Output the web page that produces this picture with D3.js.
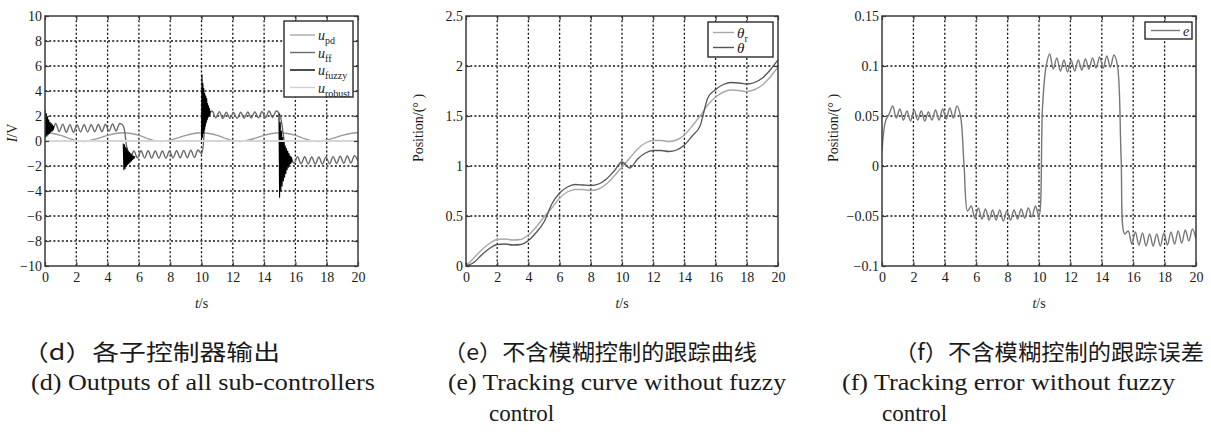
<!DOCTYPE html>
<html><head><meta charset="utf-8">
<script src="https://cdn.jsdelivr.net/npm/d3@7"></script>
<style>
html,body{margin:0;padding:0;background:#fff;}
svg{display:block;}
text{font-family:"Liberation Serif","Times New Roman",serif;fill:#1a1a1a;}
</style></head><body>
<svg id="chart" width="1211" height="441"></svg>
<script>
// ---------------- data ----------------
const timeTicks = [0,2,4,6,8,10,12,14,16,18,20];
const timeTickLabels = ["0","2","4","6","8","10","12","14","16","18","20"];

const uTicks = [-10,-8,-6,-4,-2,0,2,4,6,8,10];
const uTickLabels = ["\u221210","\u22128","\u22126","\u22124","\u22122","0","2","4","6","8","10"];
const posTicks = [0,0.5,1,1.5,2,2.5];
const posTickLabels = ["0","0.5","1","1.5","2","2.5"];
const errTicks = [-0.1,-0.05,0,0.05,0.1,0.15];
const errTickLabels = ["\u22120.1","\u22120.05","0","0.05","0.1","0.15"];

// sampling steps (s)
const oscStep = 5/22;     // error-type series
const smoothStep = 0.5;   // smooth series
const robustStep = 1;

// tracking error e (panel f)
const eVals = [
 0.015,0.045,0.052,0.060,0.048,0.057,0.046,0.055,0.045,0.056,0.046,0.055,0.045,0.054,0.046,0.056,0.046,0.057,0.047,0.058,0.048,0.060,0.050,
 0.000,-0.045,-0.040,-0.052,-0.042,-0.053,-0.043,-0.054,-0.044,-0.054,-0.044,-0.055,-0.045,-0.054,-0.044,-0.053,-0.043,-0.052,-0.042,-0.051,-0.040,-0.050,
 0.060,0.100,0.112,0.097,0.108,0.095,0.106,0.094,0.106,0.095,0.106,0.096,0.107,0.097,0.108,0.098,0.109,0.098,0.110,0.099,0.111,0.100,
 0.010,-0.068,-0.065,-0.078,-0.066,-0.079,-0.067,-0.080,-0.068,-0.080,-0.068,-0.080,-0.067,-0.079,-0.066,-0.078,-0.065,-0.077,-0.064,-0.075,-0.063,-0.073
];

// oscillating sub-controller output (panel d)
const uFFVals = [
 0.4,1.3,0.8,1.4,0.75,1.35,0.7,1.3,0.7,1.3,0.72,1.3,0.72,1.3,0.74,1.32,0.75,1.34,0.78,1.36,0.8,1.4,1.2,
 -0.5,-1.3,-0.8,-1.35,-0.78,-1.36,-0.78,-1.37,-0.8,-1.38,-0.8,-1.38,-0.8,-1.36,-0.78,-1.35,-0.76,-1.34,-0.74,-1.32,-0.72,-1.0,
 1.2,2.1,2.4,1.85,2.35,1.8,2.3,1.8,2.3,1.8,2.3,1.82,2.32,1.84,2.34,1.85,2.36,1.86,2.4,1.88,2.4,2.1,
 0.5,-1.4,-1.3,-1.8,-1.25,-1.82,-1.26,-1.84,-1.28,-1.85,-1.28,-1.85,-1.27,-1.83,-1.25,-1.8,-1.22,-1.78,-1.2,-1.76,-1.18,-1.6
];

// smooth sub-controller output (panel d)
const uPDVals = [
 0.65,0.60,0.45,0.22,0.03,-0.04,0.08,0.25,0.45,0.60,
 0.66,0.60,0.45,0.22,0.03,-0.04,0.08,0.25,0.45,0.60,
 0.66,0.60,0.45,0.22,0.03,-0.04,0.08,0.25,0.45,0.60,
 0.66,0.60,0.45,0.22,0.03,-0.04,0.08,0.25,0.45,0.60,
 0.66
];

const uRobustVals = [0,0,0,0,0,0,0,0,0,0,0,0,0,0,0,0,0,0,0,0,0];

// fuzzy bursts
const fuzzyStarts = [0, 5.0, 10.0, 14.95];
const fuzzySteps = [0.04, 0.04, 0.03, 0.04];
const fuzzyBurst0 = [2.5,0.3,2.2,0.4,1.9,0.5,1.7,0.6,1.5,0.7,1.4,0.8,1.3,0.9,1.2];
const fuzzyBurst5 = [-0.2,-2.3,-0.3,-2.2,-0.5,-2.0,-0.6,-1.9,-0.8,-1.8,-0.9,-1.7,-1.0,-1.6,-1.1,-1.5,-1.2,-1.4,-1.25,-1.3];
const fuzzyBurst10 = [0.0,5.3,0.3,4.6,0.6,4.2,0.9,3.8,1.2,3.6,1.5,3.4,1.7,3.0,1.9,2.8,2.0,2.6,2.1,2.4];
const fuzzyBurst15 = [2.2,-4.5,1.5,-4.0,0.8,-3.6,0.3,-3.2,-0.1,-2.9,-0.4,-2.6,-0.6,-2.3,-0.8,-2.1,-1.0,-1.9,-1.2,-1.8,-1.3,-1.7];

// tracking curves (panel e)
const thetaRVals = [
 0.0,0.08,0.16,0.225,0.265,0.27,0.26,0.265,0.31,0.39,
 0.49,0.58,0.68,0.74,0.765,0.765,0.755,0.77,0.82,0.90,
 0.99,1.08,1.17,1.23,1.255,1.255,1.245,1.26,1.31,1.40,
 1.50,1.61,1.69,1.74,1.76,1.755,1.745,1.765,1.81,1.89,
 1.99
];
const thetaVals = [
 0.0,0.035,0.11,0.175,0.215,0.22,0.21,0.215,0.255,0.335,
 0.44,0.62,0.73,0.79,0.815,0.81,0.805,0.82,0.87,0.95,
 1.04,0.98,1.07,1.13,1.155,1.155,1.145,1.16,1.21,1.30,
 1.40,1.68,1.765,1.815,1.835,1.83,1.82,1.835,1.88,1.96,
 2.06
];

const captionsCN = ["\uFF08d\uFF09各子控制器输出","\uFF08e\uFF09不含模糊控制的跟踪曲线","\uFF08f\uFF09不含模糊控制的跟踪误差"];
const captionsEN = ["(d) Outputs of all sub-controllers","(e) Tracking curve without fuzzy","(f) Tracking error without fuzzy"];
const captionsEN2 = ["","control","control"];

// ---------------- drawing ----------------
const svg = d3.select("#chart");
const toPts = (vals, step, start=0) => vals.map((v,i)=>[start+i*step, v]);

function panel(o){
  const g = svg.append("g");
  const x = d3.scaleLinear().domain([0,20]).range([o.left,o.right]);
  const y = d3.scaleLinear().domain(o.yDomain).range([o.bottom,o.top]);
  const id = "clip"+o.name;
  svg.append("clipPath").attr("id",id).append("rect")
    .attr("x",o.left).attr("y",o.top).attr("width",o.right-o.left).attr("height",o.bottom-o.top);
  const grid = g.append("g").attr("stroke","#111").attr("stroke-width",1.3).attr("stroke-dasharray","2,2.2");
  grid.selectAll(".v").data(timeTicks.slice(1,-1)).join("line")
    .attr("x1",d=>x(d)).attr("x2",d=>x(d)).attr("y1",o.top).attr("y2",o.bottom);
  grid.selectAll(".h").data(o.yTicks.slice(1,-1)).join("line")
    .attr("y1",d=>y(d)).attr("y2",d=>y(d)).attr("x1",o.left).attr("x2",o.right);
  const plot = g.append("g").attr("clip-path",`url(#${id})`);
  const styleAxis = (sel)=>{sel.attr("font-family",null).attr("font-size",null).style("color","#3a3a3a");
    sel.select(".domain").remove(); sel.selectAll("line").attr("stroke-width",1.2);
    sel.selectAll("text").attr("font-size",14).style("fill","#1a1a1a")
      .style("font-family","'Liberation Serif','Times New Roman',serif");};
  g.append("g").attr("transform",`translate(0,${o.bottom})`)
    .call(d3.axisBottom(x).tickValues(timeTicks).tickFormat((d,i)=>timeTickLabels[i]).tickSizeInner(-4).tickSizeOuter(0).tickPadding(6)).call(styleAxis);
  g.append("g").attr("transform",`translate(0,${o.top})`)
    .call(d3.axisTop(x).tickValues(timeTicks).tickFormat("").tickSizeInner(-4).tickSizeOuter(0)).call(styleAxis);
  g.append("g").attr("transform",`translate(${o.left},0)`)
    .call(d3.axisLeft(y).tickValues(o.yTicks).tickFormat((d,i)=>o.yLabels[i]).tickSizeInner(-4).tickSizeOuter(0).tickPadding(3)).call(styleAxis);
  g.append("g").attr("transform",`translate(${o.right},0)`)
    .call(d3.axisRight(y).tickValues(o.yTicks).tickFormat("").tickSizeInner(-4).tickSizeOuter(0)).call(styleAxis);
  g.append("rect").attr("x",o.left).attr("y",o.top).attr("width",o.right-o.left).attr("height",o.bottom-o.top)
    .attr("fill","none").attr("stroke","#3a3a3a").attr("stroke-width",1.5);
  const xl = g.append("text").attr("x",(o.left+o.right)/2).attr("y",308).attr("text-anchor","middle").attr("font-size",14);
  xl.append("tspan").attr("font-style","italic").text("t");
  xl.append("tspan").text("/s");
  return {g,plot,x,y};
}

function addLine(p, pts, color, width, curve){
  p.plot.append("path").datum(pts)
    .attr("fill","none").attr("stroke",color).attr("stroke-width",width).attr("stroke-linejoin","round")
    .attr("d", d3.line().x(d=>p.x(d[0])).y(d=>p.y(d[1])).curve(curve||d3.curveLinear));
}

function legend(p, box, rows){
  const lg = p.g.append("g");
  lg.append("rect").attr("x",box[0]).attr("y",box[1]).attr("width",box[2]-box[0]).attr("height",box[3]-box[1])
    .attr("fill","#fff").attr("stroke","#2a2a2a").attr("stroke-width",1.4);
  rows.forEach(r=>{
    lg.append("line").attr("x1",r.x1).attr("x2",r.x2).attr("y1",r.y).attr("y2",r.y)
      .attr("stroke",r.color).attr("stroke-width",r.w||1.4);
    const t = lg.append("text").attr("x",r.tx).attr("y",r.y+5).attr("font-size",r.fs||14);
    t.append("tspan").attr("font-style","italic").text(r.main);
    if(r.sub) t.append("tspan").attr("font-size",10).attr("dy",4).text(r.sub);
  });
}

// ---- panel d ----
const p1 = panel({name:"d",left:45,right:358,top:16,bottom:266,yDomain:[-10,10],yTicks:uTicks,yLabels:uTickLabels});
addLine(p1, toPts(uPDVals,smoothStep), "#9a9a9a", 1.3, d3.curveMonotoneX);
addLine(p1, toPts(uFFVals,oscStep), "#6a6a6a", 1.4, d3.curveCatmullRom.alpha(0.5));
[fuzzyBurst0,fuzzyBurst5,fuzzyBurst10,fuzzyBurst15].forEach((b,i)=>
  addLine(p1, toPts(b,fuzzySteps[i],fuzzyStarts[i]), "#000", 1.1));
addLine(p1, toPts(uRobustVals,robustStep), "#d6d6d6", 2.2);
legend(p1,[284,21,353,97],[
  {x1:290,x2:315,y:35,tx:318,color:"#a8a8a8",main:"u",sub:"pd"},
  {x1:290,x2:315,y:52.5,tx:318,color:"#6a6a6a",main:"u",sub:"ff"},
  {x1:290,x2:315,y:70,tx:318,color:"#000",main:"u",sub:"fuzzy"},
  {x1:290,x2:315,y:87.5,tx:318,color:"#cfcfcf",main:"u",sub:"robust"}
]);
svg.append("text").attr("transform","translate(17,133) rotate(-90)").attr("text-anchor","middle").attr("font-size",14)
  .call(t=>{t.append("tspan").attr("font-style","italic").text("I");t.append("tspan").text("/V");});

// ---- panel e ----
const p2 = panel({name:"e",left:466,right:778,top:16,bottom:266,yDomain:[0,2.5],yTicks:posTicks,yLabels:posTickLabels});
addLine(p2, toPts(thetaRVals,smoothStep), "#a8a8a8", 1.4, d3.curveMonotoneX);
addLine(p2, toPts(thetaVals,smoothStep), "#555", 1.3, d3.curveMonotoneX);
legend(p2,[708,22,773,57],[
  {x1:713,x2:734,y:32.5,tx:737,color:"#a8a8a8",main:"\u03B8",sub:"r",fs:15},
  {x1:713,x2:734,y:47.5,tx:737,color:"#555",main:"\u03B8",fs:15}
]);
svg.append("text").attr("transform","translate(423,128) rotate(-90)").attr("text-anchor","middle").attr("font-size",14)
  .text("Position/(\u00B0 )");

// ---- panel f ----
const p3 = panel({name:"f",left:882,right:1196,top:16,bottom:266,yDomain:[-0.1,0.15],yTicks:errTicks,yLabels:errTickLabels});
addLine(p3, toPts(eVals,oscStep), "#777", 1.4, d3.curveCatmullRom.alpha(0.5));
legend(p3,[1145,22,1192,39],[
  {x1:1151,x2:1180,y:30.5,tx:1183,color:"#777",main:"e"}
]);
svg.append("text").attr("transform","translate(838,128) rotate(-90)").attr("text-anchor","middle").attr("font-size",14)
  .text("Position/(\u00B0 )");

// ---- captions ----
const cnPos = [[22,258],[443,314],[894,310]];
captionsCN.forEach((c,i)=>{
  svg.append("text").attr("x",cnPos[i][0]).attr("y",360).attr("font-size",22)
    .style("font-family","'Noto Sans CJK SC',sans-serif")
    .attr("textLength",cnPos[i][1]).attr("lengthAdjust","spacingAndGlyphs").text(c);
});
const enPos = [[31,344],[448,338],[842,333]];
captionsEN.forEach((c,i)=>{
  svg.append("text").attr("x",enPos[i][0]).attr("y",390).attr("font-size",23)
    .attr("textLength",enPos[i][1]).attr("lengthAdjust","spacingAndGlyphs").text(c);
});
const en2X = [0,489,882];
captionsEN2.forEach((c,i)=>{
  if(c) svg.append("text").attr("x",en2X[i]).attr("y",421).attr("font-size",23).text(c);
});
</script>
</body></html>
